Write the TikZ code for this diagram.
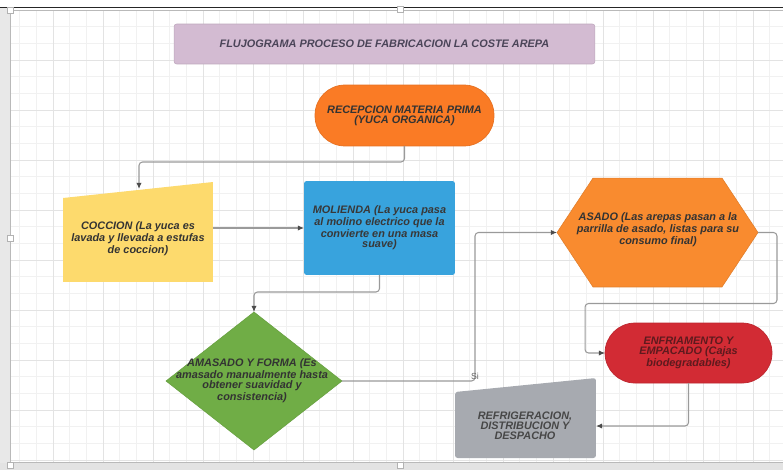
\documentclass[tikz,border=0pt]{standalone}
\usepackage{fontspec}
\setmainfont{Liberation Sans}
\usetikzlibrary{arrows.meta,shapes.geometric,calc,backgrounds}

\definecolor{titlefill}{HTML}{D3BBD2}
\definecolor{titletext}{HTML}{4A4458}
\definecolor{recfill}{HTML}{FA7B25}
\definecolor{cocfill}{HTML}{FDDA6D}
\definecolor{molfill}{HTML}{38A3DD}
\definecolor{asafill}{HTML}{F98B2F}
\definecolor{amafill}{HTML}{70AD46}
\definecolor{enffill}{HTML}{D22B34}
\definecolor{enftext}{HTML}{5E1A1E}
\definecolor{reffill}{HTML}{A7AAB0}
\definecolor{txtgray}{HTML}{333333}
\definecolor{linegray}{HTML}{9A9A9A}

\begin{document}
\begin{tikzpicture}[x=0.02cm, y=-0.02cm,
    every node/.style={inner sep=0pt, outer sep=0pt},
    txt/.style={align=center, font=\fontsize{6.2}{5.6}\selectfont\bfseries\itshape, text=txtgray},
    flow/.style={draw=linegray, line width=0.6pt, rounded corners=2pt,
      -{Latex[length=3.5pt,width=3pt,color=black!70]}},
    gridminor/.style={draw=gray!11, line width=0.3pt},
    gridmajor/.style={draw=gray!22, line width=0.35pt}]
  \useasboundingbox (0,0) rectangle (783,470);

  % Title
  \node[txt, fill=titlefill, draw=titlefill!90!black, line width=0.3pt, rounded corners=1.5pt,
        minimum width=8.42cm, minimum height=0.8cm, text=titletext] (title) at (384.5,44)
        {FLUJOGRAMA PROCESO DE FABRICACION LA COSTE AREPA};

  % Steps
  \node[txt, fill=recfill, draw=recfill!92!black, rounded corners=0.6cm,
        minimum width=3.58cm, minimum height=1.22cm, text=black!80] (recepcion) at (404.5,115.5)
        {RECEPCION MATERIA PRIMA\\(YUCA ORGANICA)};
  \node[minimum width=3cm, minimum height=2cm] (coccion) at (138,232) {};
  \node[txt] (coccionlbl) at (138,239) {COCCION (La yuca es\\lavada y llevada a estufas\\de coccion)};
  \node[txt, fill=molfill, rounded corners=1.5pt, minimum width=3.02cm, minimum height=1.88cm,
        text=black!78] (molienda) at (379.5,228)
        {MOLIENDA (La yuca pasa\\al molino electrico que la\\convierte en una masa\\suave)};
  \node[diamond, fill=amafill, draw=amafill!92!black, line width=0.3pt,
        minimum width=3.52cm, minimum height=2.76cm] (amasado) at (254,381) {};
  \node[txt] (amasadolbl) at (252,380.5)
        {AMASADO Y FORMA (Es\\amasado manualmente hasta\\obtener suavidad y\\consistencia)};
  \node[minimum width=4.02cm, minimum height=2.18cm] (asado) at (657.5,232.5) {};
  \node[txt] (asadolbl) at (658,229.5)
        {ASADO (Las arepas pasan a la\\parrilla de asado, listas para su\\consumo final)};
  \node[txt, fill=enffill, draw=enffill!90!black, rounded corners=0.6cm,
        minimum width=3.34cm, minimum height=1.2cm, text=enftext] (enfriamento) at (688.5,353)
        {ENFRIAMENTO Y\\EMPACADO (Cajas\\biodegradables)};
  \node[minimum width=2.82cm, minimum height=1.6cm] (refrig) at (525.5,418) {};
  \node[txt, text=black!72] (refriglbl) at (525,426) {REFRIGERACION,\\DISTRIBUCION Y\\DESPACHO};

  % Connectors
  \coordinate (cocciontop) at (139,189);
  \draw[flow] (recepcion.south) -- ++(0,16) -| (cocciontop);
  \draw[flow] (coccion.east |- molienda.west) -- (molienda.west);
  \draw[flow] (molienda.south) -- ++(0,17) -| (amasado.north);
  \draw[flow] (amasado.east) -- ++(133,0) |- (asado.west);
  \node[font=\fontsize{5}{5}\selectfont, text=black!60] (si) at (475,376) {Si};
  \draw[flow] (asado.east) -| ++(19,71) -| ($(enfriamento.west)+(-20,0)$) -- (enfriamento.west);
  \draw[flow] (enfriamento.south) |- ($(refrig.east)+(0,8)$);

  \begin{scope}[on background layer]
    % Frame and grid
    \fill[white] (0,0) rectangle (783,470);
    \fill[gray!18] (0,8) rectangle (10,470);
    \fill[gray!22] (0,463) rectangle (783,470);
    \foreach \k in {1,...,46} \draw[gridminor] ({3+\k*50/3},11) -- ({3+\k*50/3},462);
    \foreach \k in {1,...,27} \draw[gridminor] (11,{10+\k*50/3}) -- (783,{10+\k*50/3});
    \foreach \k in {53,103,...,753} \draw[gridmajor] (\k,11) -- (\k,462);
    \foreach \k in {60,110,...,460} \draw[gridmajor] (11,\k) -- (783,\k);
    \draw[black!85, line width=0.8pt] (0,7.5) -- (783,7.5);
    \draw[gray!55, line width=0.6pt] (10.5,8) -- (10.5,463) (10.5,10.5) -- (783,10.5)
      (10.5,462.5) -- (783,462.5);
    \foreach \hx/\hy in {10.5/10.5, 400/9, 10.5/238, 10.5/465, 400/465}
      \draw[gray!60, fill=white, line width=0.4pt] ({\hx-3},{\hy-3}) rectangle ++(6,6);
    % Shapes drawn from the nodes
    \fill[cocfill] (coccion.south west) -- (coccion.south east) -- (coccion.north east)
      -- ($(coccion.north west)+(0,16)$) -- cycle;
    \filldraw[fill=asafill, draw=asafill!90!black, line width=0.3pt] (asado.west)
      -- ($(asado.north west)+(36,0)$) -- ($(asado.north east)+(-36,0)$) -- (asado.east)
      -- ($(asado.south east)+(-36,0)$) -- ($(asado.south west)+(36,0)$) -- cycle;
    \fill[reffill, rounded corners=1.5pt] (refrig.south west) -- (refrig.south east)
      -- (refrig.north east) -- ($(refrig.north west)+(0,14)$) -- cycle;
  \end{scope}
\end{tikzpicture}
\end{document}
